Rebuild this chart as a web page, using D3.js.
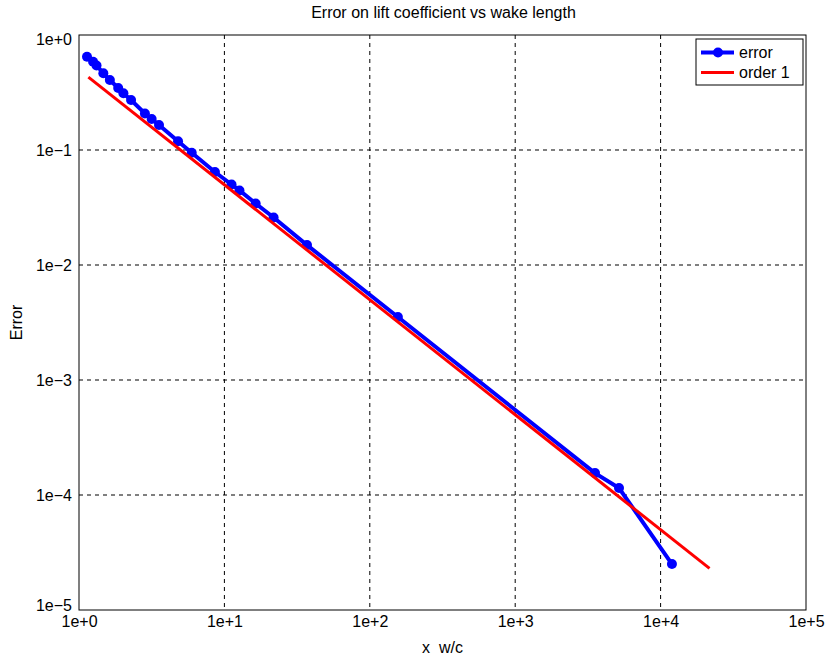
<!DOCTYPE html>
<html>
<head>
<meta charset="utf-8">
<script src="https://cdn.jsdelivr.net/npm/d3@7"></script>
<style>
  body { margin: 0; background: #fff; }
  text { font-family: "Liberation Sans", Arial, sans-serif; }
</style>
</head>
<body>
<div id="vis"></div>
<script>
// data
const errX = [1.135, 1.25, 1.32, 1.47, 1.63, 1.86, 2.02, 2.28, 2.84, 3.16, 3.55, 4.8, 5.96,
  8.61, 11.2, 12.7, 16.4, 21.8, 37.0, 156, 3540, 5175, 11970];
const errY = [0.648, 0.586, 0.543, 0.465, 0.406, 0.346, 0.311, 0.272, 0.208, 0.186, 0.165, 0.119, 0.0948,
  0.0644, 0.0501, 0.0445, 0.0343, 0.0259, 0.0149, 0.00353, 1.55e-4, 1.15e-4, 2.51e-5];
const orderX = [1.16, 21700];
const orderY = [0.43, 2.3e-5];
const xTicks = [1, 10, 100, 1000, 10000, 100000];
const yTicks = [1e-5, 1e-4, 1e-3, 1e-2, 1e-1, 1];
const seriesNames = ['error', 'order 1'];

let W = 825, H = 658;
let margin = { top: 35, left: 79, right: 19, bottom: 48 };
let width = W - margin.left - margin.right;
let height = H - margin.top - margin.bottom;

let svg = d3.select('#vis')
  .append('svg')
    .attr('width', W)
    .attr('height', H);

let g = svg.append('g')
  .attr('transform', `translate(${margin.left},${margin.top})`);

let xScale = d3.scaleLog().domain([1, 1e5]).range([0, width]);
let yScale = d3.scaleLog().domain([1e-5, 1]).range([height, 0]);

const fmt = v => {
  let e = Math.round(Math.log10(v));
  return '1e' + (e < 0 ? '\u2212' + (-e) : '+' + e);
};

// grid
g.selectAll('.vgrid')
  .data(xTicks.slice(1, -1))
  .enter().append('line')
    .attr('x1', d => xScale(d)).attr('x2', d => xScale(d))
    .attr('y1', 0).attr('y2', height)
    .attr('stroke', '#000').attr('stroke-width', 1)
    .attr('stroke-dasharray', '4,4');
g.selectAll('.hgrid')
  .data(yTicks.slice(1, -1))
  .enter().append('line')
    .attr('y1', d => yScale(d)).attr('y2', d => yScale(d))
    .attr('x1', 0).attr('x2', width)
    .attr('stroke', '#000').attr('stroke-width', 1)
    .attr('stroke-dasharray', '4,4');

// axes
let xAxis = g.append('g')
  .attr('transform', `translate(0,${height})`)
  .call(d3.axisBottom(xScale).tickValues(xTicks).tickFormat(fmt).tickSize(0).tickPadding(6));
let yAxis = g.append('g')
  .call(d3.axisLeft(yScale).tickValues(yTicks).tickFormat(fmt).tickSize(0).tickPadding(7));
[xAxis, yAxis].forEach(a => {
  a.select('.domain').remove();
  a.selectAll('text').style('font-size', '16px').attr('fill', '#000');
});
// end labels kept inside the axis span, like the original
yAxis.selectAll('text').attr('dy', d => d === 1 ? '0.62em' : d === 1e-5 ? '0.0em' : '0.32em');

// box
g.append('rect')
  .attr('width', width).attr('height', height)
  .attr('fill', 'none').attr('stroke', '#000').attr('stroke-width', 1);

// lines
let errData = errX.map((x, i) => ({ x: x, y: errY[i] }));
let orderData = orderX.map((x, i) => ({ x: x, y: orderY[i] }));
let line = d3.line().x(d => xScale(d.x)).y(d => yScale(d.y));

g.append('path')
  .attr('d', line(errData))
  .attr('fill', 'none').attr('stroke', '#0000ff').attr('stroke-width', 4);
g.selectAll('.dot')
  .data(errData)
  .enter().append('circle')
    .attr('cx', d => xScale(d.x)).attr('cy', d => yScale(d.y))
    .attr('r', 5).attr('fill', '#0000ff');

g.append('path')
  .attr('d', line(orderData))
  .attr('fill', 'none').attr('stroke', '#ff0000').attr('stroke-width', 3);

// title and labels
svg.append('text')
  .attr('x', margin.left + width / 2 + 1).attr('y', 18)
  .attr('text-anchor', 'middle').style('font-size', '16px')
  .text('Error on lift coefficient vs wake length');
svg.append('text')
  .attr('x', margin.left + width / 2).attr('y', 653)
  .attr('text-anchor', 'middle').style('font-size', '16px')
  .style('white-space', 'pre').attr('xml:space', 'preserve')
  .text('x  w/c');
svg.append('text')
  .attr('transform', `translate(22,${margin.top + height / 2}) rotate(-90)`)
  .attr('text-anchor', 'middle').style('font-size', '16px')
  .text('Error');

// legend
let leg = svg.append('g').attr('transform', 'translate(696,39)');
leg.append('rect')
  .attr('width', 107).attr('height', 46)
  .attr('fill', '#fff').attr('stroke', '#000').attr('stroke-width', 1);
let legColors = ['#0000ff', '#ff0000'];
let legWidths = [4, 3];
seriesNames.forEach((name, i) => {
  let yy = 13.5 + i * 20;
  leg.append('line')
    .attr('x1', 5).attr('x2', 38).attr('y1', yy).attr('y2', yy)
    .attr('stroke', legColors[i]).attr('stroke-width', legWidths[i]);
  if (i === 0) {
    leg.append('circle').attr('cx', 22).attr('cy', yy).attr('r', 5).attr('fill', legColors[i]);
  }
  leg.append('text')
    .attr('x', 43).attr('y', yy + 5.5)
    .style('font-size', '16px')
    .text(name);
});
</script>
</body>
</html>
